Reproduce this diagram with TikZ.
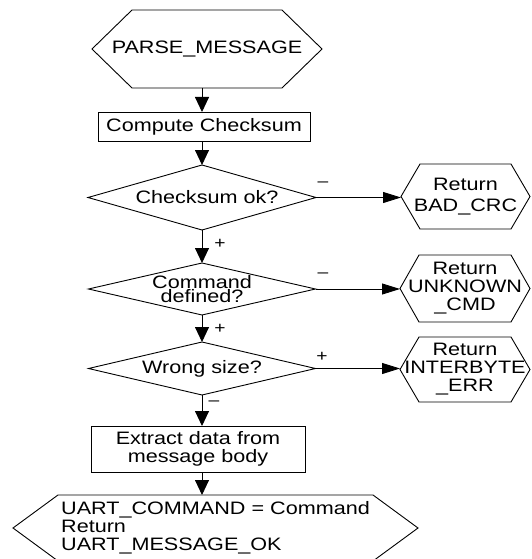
\documentclass[tikz,border=0pt]{standalone}
\usepackage{fontspec}
\setmainfont[FakeStretch=1.2]{Liberation Sans}
\usetikzlibrary{arrows.meta}
\newcommand\hexpath[2]{\draw[shp] ([xshift=#2]#1.north west) -- ([xshift=-#2]#1.north east) -- (#1.east) -- ([xshift=-#2]#1.south east) -- ([xshift=#2]#1.south west) -- (#1.west) -- cycle;}
\newcommand\diapath[1]{\draw[shp] (#1.north) -- (#1.east) -- (#1.south) -- (#1.west) -- cycle;}
\begin{document}
\begin{tikzpicture}[x=1pt,y=-1pt,
  every node/.style={font=\fontsize{18}{18}\selectfont, inner sep=0pt, outer sep=0pt},
  box/.style={draw, line width=0.9pt, rectangle},
  frame/.style={rectangle},
  conn/.style={line width=0.9pt, -{Triangle[length=15pt,width=14pt]}},
  hconn/.style={line width=0.9pt, -{Triangle[length=18pt,width=11pt]}},
  lbl/.style={font=\fontsize{16}{16}\selectfont},
  shp/.style={line width=0.9pt}
]
\useasboundingbox (0,0) rectangle (531,559);
\clip (0,0) rectangle (531,559);

% main column
\node[frame, minimum width=230pt, minimum height=78pt] (pm) at (207,49) {PARSE\_MESSAGE};
\hexpath{pm}{40pt}
\node[box, minimum width=212pt, minimum height=29pt] (cc) at (204,126.5) {Compute Checksum};
\node[frame, minimum width=228pt, minimum height=65pt] (ck) at (202,197.5) {\hspace{10pt}Checksum ok?};
\diapath{ck}
\node[frame, minimum width=227pt, minimum height=52pt, align=center, font=\fontsize{18}{14.5}\selectfont] (cd) at (202,289) {Command\\defined?};
\diapath{cd}
\node[frame, minimum width=227pt, minimum height=53pt] (ws) at (202,368.5) {Wrong size?};
\diapath{ws}
\node[box, minimum width=214pt, minimum height=46pt, align=center, font=\fontsize{18}{18}\selectfont] (ex) at (198,449) {Extract data from\\message body};
\node[frame, minimum width=405pt, minimum height=66pt, align=left, font=\fontsize{18}{18}\selectfont] (ret) at (215.5,528) {UART\_COMMAND = Command\\Return\\UART\_MESSAGE\_OK};
\hexpath{ret}{45pt}

% right column
\node[frame, minimum width=129pt, minimum height=65pt, align=center, font=\fontsize{18}{21}\selectfont] (bc) at (465.5,196.5) {Return\\BAD\_CRC};
\hexpath{bc}{19pt}
\node[frame, minimum width=130pt, minimum height=67pt, align=center, font=\fontsize{18}{18}\selectfont] (uc) at (465,288.5) {Return\\UNKNOWN\\\_CMD};
\hexpath{uc}{19pt}
\node[frame, minimum width=130pt, minimum height=65pt, align=center, font=\fontsize{18}{18}\selectfont] (ib) at (465,369.5) {Return\\INTERBYTE\\\_ERR};
\hexpath{ib}{19pt}

% vertical connectors
\draw[conn] (ck.north |- pm.south) -- (ck.north |- cc.north);
\draw[conn] (ck.north |- cc.south) -- (ck.north);
\draw[conn] (ck.south) -- (cd.north);
\draw[conn] (cd.south) -- (ws.north);
\draw[conn] (ws.south) -- (ws.south |- ex.north);
\draw[conn] (ws.south |- ex.south) -- (ws.south |- ret.north);

% horizontal connectors
\draw[hconn] (ck.east) -- (ck.east -| bc.west);
\draw[hconn] (cd.east) -- (cd.east -| uc.west);
\draw[hconn] (ws.east) -- (ws.east -| ib.west);

% labels
\node[lbl] (l1) at (323,184) {--};
\node[lbl] (l2) at (220,244) {+};
\node[lbl] (l3) at (323,275) {--};
\node[lbl] (l4) at (220,329) {+};
\node[lbl] (l5) at (322,357) {+};
\node[lbl] (l6) at (214,403) {--};
\end{tikzpicture}
\end{document}
